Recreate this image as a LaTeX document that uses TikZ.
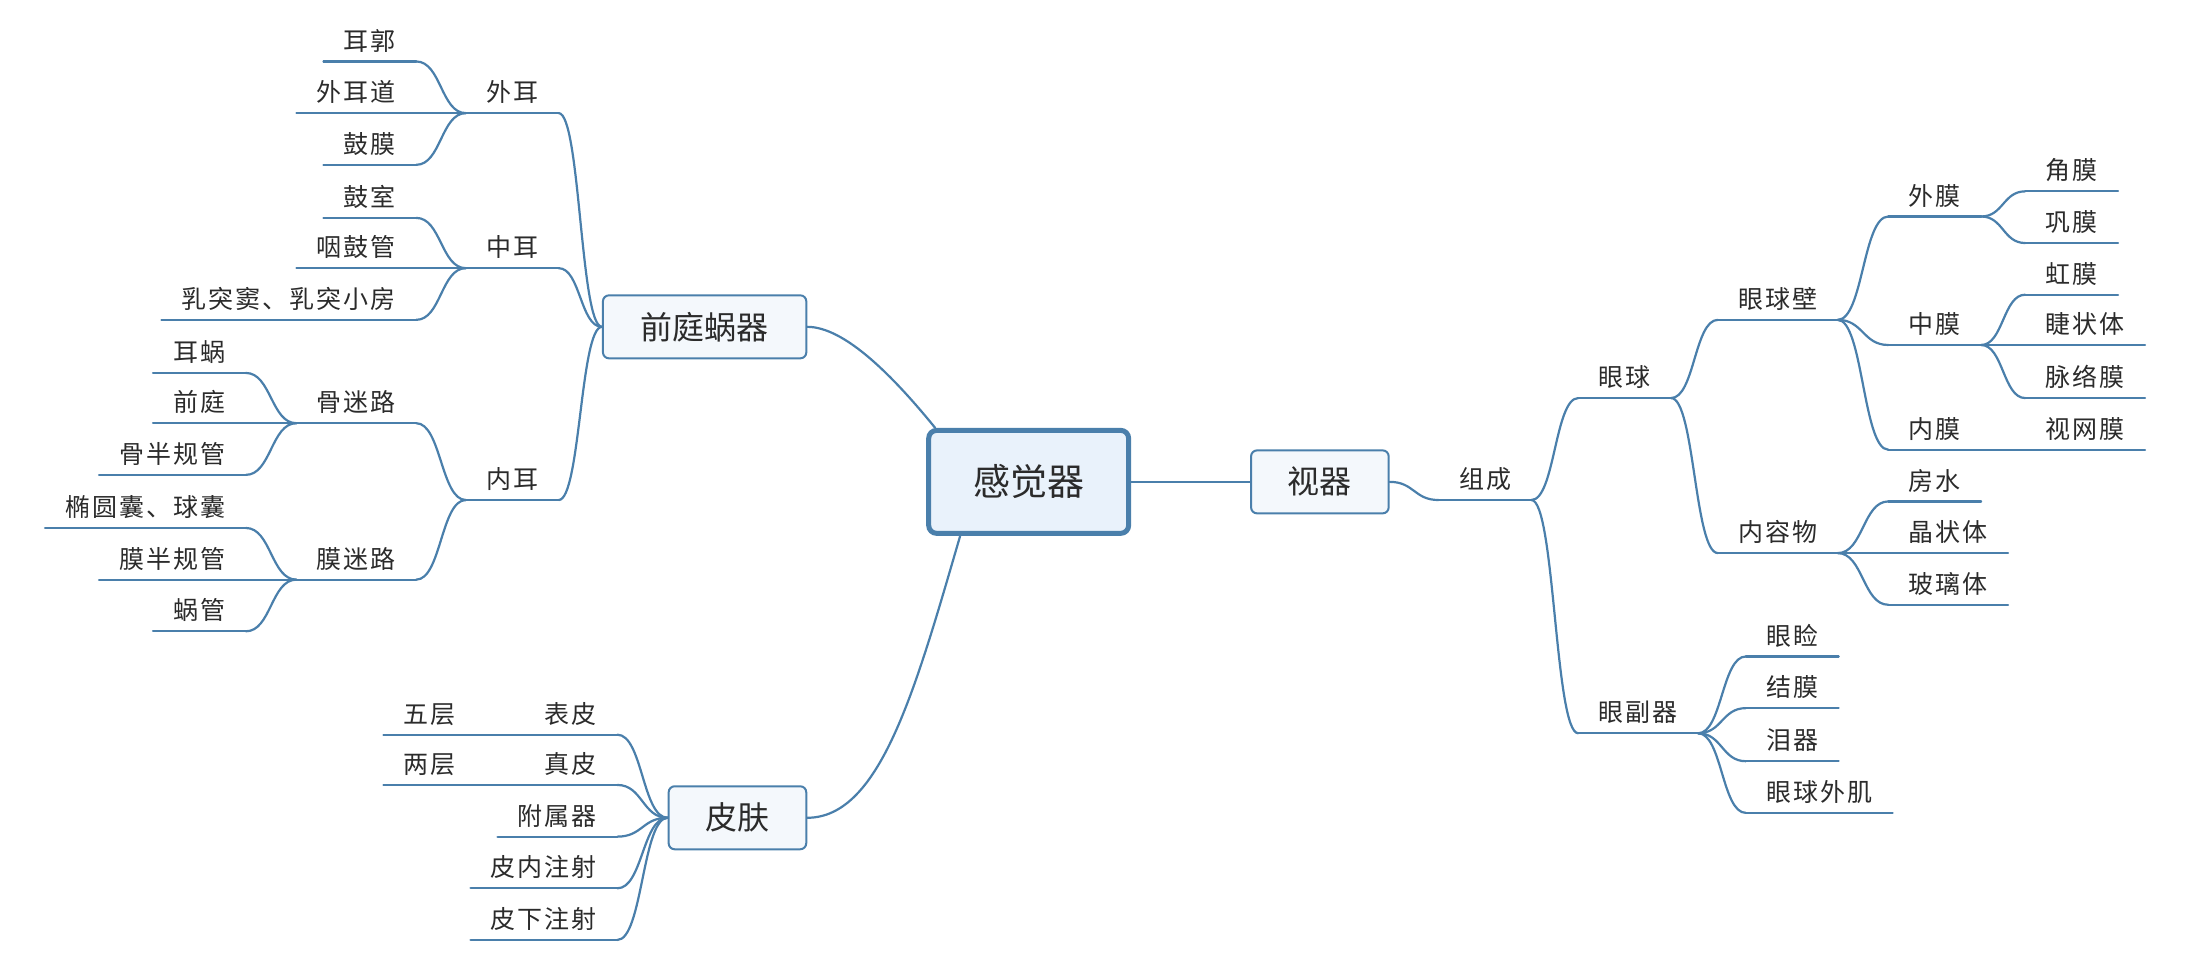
\documentclass[tikz,border=0pt]{standalone}
\usepackage{fontspec}
\newfontfamily\cjk{Noto Sans CJK SC}
\newfontfamily\cjkwide[LetterSpace=8]{Noto Sans CJK SC}
\usetikzlibrary{backgrounds,calc}
\definecolor{linec}{HTML}{4A7FAB}
\definecolor{rootfill}{HTML}{E9F2FB}
\definecolor{mainfill}{HTML}{F4F8FC}
\definecolor{txt}{HTML}{2B2B2B}
\tikzset{
  branch/.style={draw=linec,line width=1.1pt,line cap=round},
  link/.style={to path={let \p1=(\tikztostart), \p2=(\tikztotarget) in
    .. controls ({0.5*\x1+0.5*\x2},\y1) and ({0.5*\x1+0.5*\x2},\y2) .. (\tikztotarget)}},
  topic/.style={font=\cjkwide\fontsize{12.5}{15}\selectfont,text=txt,inner xsep=10pt,
    inner ysep=3pt,text height=10pt,text depth=2.5pt},
  lefttopic/.style={topic,anchor=south east},
  righttopic/.style={topic,anchor=south west},
  mainbox/.style={draw=linec,fill=mainfill,line width=1pt,rounded corners=3pt,
    font=\cjk\fontsize{16}{19}\selectfont,text=txt,minimum height=31.5pt,inner sep=0pt},
  rootbox/.style={draw=linec,fill=rootfill,line width=2.5pt,rounded corners=4pt,
    font=\cjk\fontsize{18.5}{22}\selectfont,text=txt,minimum width=100pt,minimum height=51.5pt}
}
\begin{document}
\begin{tikzpicture}[x=0.6984pt,y=-0.6984pt]
  \useasboundingbox (0,0) rectangle (1568,689);
  \node[rootbox] (root) at (736.5,345) {感觉器};

  % ear
  \node[mainbox,minimum width=101.7pt] (qt) at (504.5,234) {前庭蜗器};
  \node[lefttopic] (outer) at (400,81) {外耳};
  \node[lefttopic] (auricle) at (298,44) {耳郭};
  \node[lefttopic] (canal) at (298,81) {外耳道};
  \node[lefttopic] (drum) at (298,118) {鼓膜};
  \node[lefttopic] (middle) at (400,192) {中耳};
  \node[lefttopic] (cavity) at (298,156) {鼓室};
  \node[lefttopic] (tube) at (298,192) {咽鼓管};
  \node[lefttopic] (mastoid) at (298,229) {乳突窦、乳突小房};
  \node[lefttopic] (inner) at (400,358) {内耳};
  \node[lefttopic] (bony) at (298,303) {骨迷路};
  \node[lefttopic] (cochlea) at (176,267) {耳蜗};
  \node[lefttopic] (vestib) at (176,303) {前庭};
  \node[lefttopic] (bsc) at (176,340) {骨半规管};
  \node[lefttopic] (memb) at (298,415) {膜迷路};
  \node[lefttopic] (utricle) at (176,378) {椭圆囊、球囊};
  \node[lefttopic] (msc) at (176,415) {膜半规管};
  \node[lefttopic] (duct) at (176,452) {蜗管};

  % skin
  \node[mainbox,minimum width=68.8pt] (skin) at (528,585.5) {皮肤};
  \node[lefttopic] (epi) at (442,526) {表皮};
  \node[lefttopic] (five) at (341,526) {五层};
  \node[lefttopic] (derm) at (442,562) {真皮};
  \node[lefttopic] (two) at (341,562) {两层};
  \node[lefttopic] (adnexa) at (442,599) {附属器};
  \node[lefttopic] (intra) at (442,636) {皮内注射};
  \node[lefttopic] (sub) at (442,673) {皮下注射};

  % eye
  \node[mainbox,minimum width=68.8pt] (visual) at (945,345) {视器};
  \node[righttopic] (comp) at (1030,358) {组成};
  \node[righttopic] (eyeball) at (1130,285) {眼球};
  \node[righttopic] (wall) at (1230,229) {眼球壁};
  \node[righttopic] (fib) at (1352,155) {外膜};
  \node[righttopic] (cornea) at (1450,137) {角膜};
  \node[righttopic] (sclera) at (1450,174) {巩膜};
  \node[righttopic] (vasc) at (1352,247) {中膜};
  \node[righttopic] (iris) at (1450,211) {虹膜};
  \node[righttopic] (ciliary) at (1450,247) {睫状体};
  \node[righttopic] (choroid) at (1450,285) {脉络膜};
  \node[righttopic] (inmem) at (1352,322) {内膜};
  \node[righttopic] (retina) at (1450,322) {视网膜};
  \node[righttopic] (contents) at (1230,396) {内容物};
  \node[righttopic] (aqueous) at (1352,359) {房水};
  \node[righttopic] (lens) at (1352,396) {晶状体};
  \node[righttopic] (vitreous) at (1352,433) {玻璃体};
  \node[righttopic] (access) at (1130,525) {眼副器};
  \node[righttopic] (eyelid) at (1250,470) {眼睑};
  \node[righttopic] (conj) at (1250,507) {结膜};
  \node[righttopic] (lacrimal) at (1250,545) {泪器};
  \node[righttopic] (muscles) at (1250,582) {眼球外肌};

  \begin{pgfonlayer}{background}
  % underlines
  \foreach \n in {outer,auricle,canal,drum,middle,cavity,tube,mastoid,inner,bony,
    cochlea,vestib,bsc,memb,utricle,msc,duct,epi,five,derm,two,adnexa,intra,sub,
    comp,eyeball,wall,fib,cornea,sclera,vasc,iris,ciliary,choroid,inmem,retina,
    contents,aqueous,lens,vitreous,access,eyelid,conj,lacrimal,muscles}
    \draw[branch] (\n.south west) -- (\n.south east);
  % main branches
  \draw[branch] (qt.east) .. controls +(27,0) and (640,270) .. ([xshift=4.5pt]root.north west);
  \draw[branch] (skin.east) .. controls +(52,0) and (655,495) .. ([xshift=17pt]root.south west);
  \draw[branch] (root.east) -- (visual.west);
  \begin{scope}[every edge/.style={branch,link}]
  \path (qt.west) edge (outer.south east);
  \path (qt.west) edge (middle.south east);
  \path (qt.west) edge (inner.south east);
  \path (outer.south west) edge (auricle.south east);
  \path (outer.south west) edge (canal.south east);
  \path (outer.south west) edge (drum.south east);
  \path (middle.south west) edge (cavity.south east);
  \path (middle.south west) edge (tube.south east);
  \path (middle.south west) edge (mastoid.south east);
  \path (inner.south west) edge (bony.south east);
  \path (inner.south west) edge (memb.south east);
  \path (bony.south west) edge (cochlea.south east);
  \path (bony.south west) edge (vestib.south east);
  \path (bony.south west) edge (bsc.south east);
  \path (memb.south west) edge (utricle.south east);
  \path (memb.south west) edge (msc.south east);
  \path (memb.south west) edge (duct.south east);
  \path (skin.west) edge (epi.south east);
  \path (skin.west) edge (derm.south east);
  \path (skin.west) edge (adnexa.south east);
  \path (skin.west) edge (intra.south east);
  \path (skin.west) edge (sub.south east);
  \path (epi.south west) edge (five.south east);
  \path (derm.south west) edge (two.south east);
  \path (visual.east) edge (comp.south west);
  \path (comp.south east) edge (eyeball.south west);
  \path (comp.south east) edge (access.south west);
  \path (eyeball.south east) edge (wall.south west);
  \path (eyeball.south east) edge (contents.south west);
  \path (wall.south east) edge (fib.south west);
  \path (wall.south east) edge (vasc.south west);
  \path (wall.south east) edge (inmem.south west);
  \path (fib.south east) edge (cornea.south west);
  \path (fib.south east) edge (sclera.south west);
  \path (vasc.south east) edge (iris.south west);
  \path (vasc.south east) edge (ciliary.south west);
  \path (vasc.south east) edge (choroid.south west);
  \path (inmem.south east) edge (retina.south west);
  \path (contents.south east) edge (aqueous.south west);
  \path (contents.south east) edge (lens.south west);
  \path (contents.south east) edge (vitreous.south west);
  \path (access.south east) edge (eyelid.south west);
  \path (access.south east) edge (conj.south west);
  \path (access.south east) edge (lacrimal.south west);
  \path (access.south east) edge (muscles.south west);
  \end{scope}
  \end{pgfonlayer}
\end{tikzpicture}
\end{document}
